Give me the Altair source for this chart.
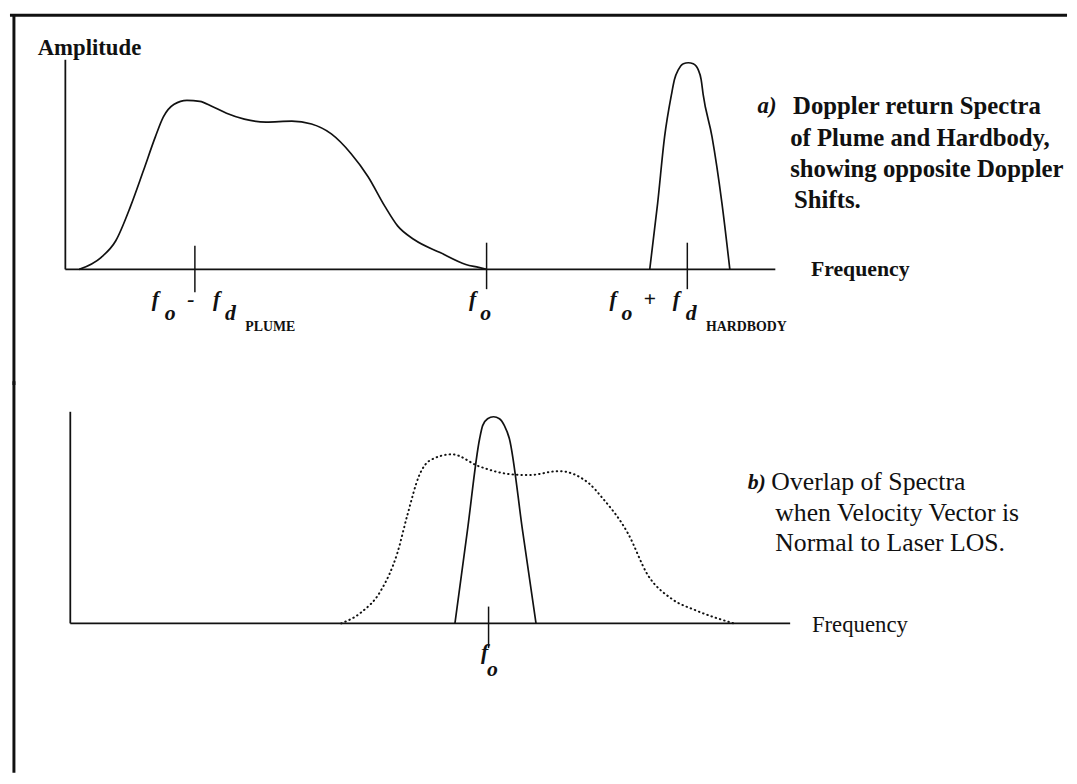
import altair as alt
import pandas as pd

# ---------------- data (frequency in arbitrary units, f0 = 0; amplitude in arbitrary units) ----------------
# panel a) plume return and hardbody return
plume_a_freq = [-41.2, -39.0, -37.5, -36.0, -34.7, -33.5, -32.7, -31.6, -30.3, -29.0, -27.8, -26.3, -24.5,
                -22.3, -19.7, -17.7, -15.7, -13.7, -12.0, -10.3, -9.0, -7.3, -4.7, -2.1, -0.8, 0.0]
plume_a_amp = [0, 1.2, 2.9, 6.4, 10.0, 13.4, 15.4, 16.7, 17.1, 17.0, 16.5, 15.8, 15.2,
               14.9, 15.0, 14.7, 13.7, 11.7, 9.4, 6.4, 4.4, 3.0, 1.7, 0.5, 0.2, 0]
hard_a_freq = [16.5, 17.3, 18.0, 18.7, 19.0, 19.4, 19.9, 20.4, 20.9, 21.4, 21.7, 21.9, 22.8, 23.8, 24.6]
hard_a_amp = [0, 6.7, 13.4, 17.7, 19.2, 20.2, 20.8, 20.9, 20.8, 20.2, 19.2, 17.7, 13.4, 6.7, 0]

# panel b) plume (dotted) overlapping the hardbody return at f0
plume_b_freq = [-14.9, -12.9, -10.9, -9.2, -8.2, -7.0, -5.9, -3.7, -1.0, 2.1, 4.1, 7.1, 10.1, 11.5,
                14.1, 16.1, 18.5, 21.0, 24.8]
plume_b_amp = [0, 1.1, 3.3, 7.2, 11.0, 15.0, 16.5, 17.1, 15.9, 15.1, 15.0, 15.4, 14.2, 12.7,
               9.1, 4.9, 2.5, 1.3, 0]
hard_b_freq = [-3.4, -2.15, -0.9, -0.6, -0.1, 0.5, 1.1, 1.6, 2.1, 3.45, 4.8]
hard_b_amp = [0, 9.3, 18.7, 20.0, 20.7, 20.9, 20.7, 20.0, 18.7, 9.3, 0]

# axes extents
axis_a = {"f0": -42.6, "f1": 29.2, "top": 21.2}
axis_b = {"f0": -42.3, "f1": 30.5, "top": 21.4}
ticks_a_freq = [-29.5, 0.0, 20.3]
ticks_a_top = [2.4, 2.7, 2.7]
ticks_a_bot = [-2.3, -2.0, -2.0]
ticks_b_freq = [0.0]
ticks_b_top = [1.7]
ticks_b_bot = [-2.5]

# texts
caption_a = ["Doppler return Spectra", "of Plume and Hardbody,", "showing opposite Doppler", "Shifts."]
caption_a_f = [31.0, 30.7, 30.7, 31.1]
caption_a_A = [16.5, 13.3, 10.1, 7.0]
caption_b = ["Overlap of Spectra", "when Velocity Vector is", "Normal to Laser LOS."]
caption_b_f = [28.6, 29.0, 29.0]
caption_b_A = [14.3, 11.2, 8.1]

# tick-label pieces (italic symbols) for panel a
sym_a_text = ["f", "o", "-", "f", "d", "f", "o", "f", "o", "+", "f", "d"]
sym_a_f = [-33.5, -32.0, -29.9, -27.3, -25.9, -1.4, -0.1, 12.8, 14.2, 16.5, 19.2, 20.7]
sym_a_A = [-3.0, -4.4, -3.0, -3.0, -4.4, -3.0, -4.4, -3.0, -4.4, -3.0, -3.0, -4.4]
small_a_text = ["PLUME", "HARDBODY"]
small_a_f = [-24.4, 22.2]
small_a_A = [-5.8, -5.8]
sym_b_text = ["f", "o"]
sym_b_f = [-0.4, 0.4]
sym_b_A = [-2.9, -4.6]

INK = "#111111"
FONT = "Liberation Serif"
W = 1069
HA, HB = 372, 396

xs_a = alt.Scale(domain=[-48.2, 58.7], nice=False, zero=False)
ys_a = alt.Scale(domain=[-11.3, 25.9], nice=False, zero=False)
xs_b = alt.Scale(domain=[-48.4, 58.5], nice=False, zero=False)
ys_b = alt.Scale(domain=[-15.1, 24.5], nice=False, zero=False)


def curve(freq, amp, xs, ys, dash=None, width=1.7):
    df = pd.DataFrame({"f": freq, "A": amp, "i": list(range(len(freq)))})
    kw = dict(color=INK, strokeWidth=width, interpolate="monotone")
    if dash is not None:
        kw["strokeDash"] = dash
        kw["strokeCap"] = "round"
    return alt.Chart(df).mark_line(**kw).encode(
        x=alt.X("f:Q", scale=xs, axis=None),
        y=alt.Y("A:Q", scale=ys, axis=None),
        order="i:Q",
    )


def axes(ax, xs, ys):
    v = pd.DataFrame({"f": [ax["f0"]], "A": [0.0], "A2": [ax["top"]]})
    h = pd.DataFrame({"f": [ax["f0"]], "f2": [ax["f1"]], "A": [0.0]})
    vr = alt.Chart(v).mark_rule(color=INK, strokeWidth=1.8).encode(
        x=alt.X("f:Q", scale=xs, axis=None), y=alt.Y("A:Q", scale=ys, axis=None), y2="A2:Q")
    hr = alt.Chart(h).mark_rule(color=INK, strokeWidth=1.8).encode(
        x=alt.X("f:Q", scale=xs, axis=None), x2="f2:Q", y=alt.Y("A:Q", scale=ys, axis=None))
    return vr + hr


def ticks(freq, top, bot, xs, ys):
    df = pd.DataFrame({"f": freq, "t": top, "b": bot})
    return alt.Chart(df).mark_rule(color=INK, strokeWidth=1.5).encode(
        x=alt.X("f:Q", scale=xs, axis=None), y=alt.Y("t:Q", scale=ys, axis=None), y2="b:Q")


def texts(txt, freq, amp, xs, ys, size, weight="normal", style="normal", align="left", baseline="middle"):
    df = pd.DataFrame({"t": txt, "f": freq, "A": amp})
    return alt.Chart(df).mark_text(font=FONT, fontSize=size, fontWeight=weight, fontStyle=style,
                                   align=align, baseline=baseline, color=INK).encode(
        x=alt.X("f:Q", scale=xs, axis=None), y=alt.Y("A:Q", scale=ys, axis=None), text="t:N")


dummy = pd.DataFrame({"k": [0]})
border_top = alt.Chart(dummy).mark_rule(color=INK, strokeWidth=3).encode(
    x=alt.value(0), x2=alt.value(W), y=alt.value(2))
border_left_a = alt.Chart(dummy).mark_rule(color=INK, strokeWidth=3).encode(
    x=alt.value(4), y=alt.value(1), y2=alt.value(HA + 4))
border_left_b = alt.Chart(dummy).mark_rule(color=INK, strokeWidth=3).encode(
    x=alt.value(4), y=alt.value(0), y2=alt.value(HB))

panel_a = alt.layer(
    border_top, border_left_a,
    axes(axis_a, xs_a, ys_a),
    ticks(ticks_a_freq, ticks_a_top, ticks_a_bot, xs_a, ys_a),
    curve(plume_a_freq, plume_a_amp, xs_a, ys_a),
    curve(hard_a_freq, hard_a_amp, xs_a, ys_a),
    texts(["Amplitude"], [-45.4], [21.7], xs_a, ys_a, 23, weight="bold", baseline="alphabetic"),
    texts(["Frequency"], [32.8], [0.0], xs_a, ys_a, 22, weight="bold"),
    texts(["a)"], [27.4], [16.5], xs_a, ys_a, 23, weight="bold", style="italic"),
    texts(caption_a, caption_a_f, caption_a_A, xs_a, ys_a, 25, weight="bold"),
    texts(sym_a_text, sym_a_f, sym_a_A, xs_a, ys_a, 22, weight="bold", style="italic", align="center"),
    texts(small_a_text, small_a_f, small_a_A, xs_a, ys_a, 14, weight="bold"),
).properties(width=W, height=HA)

panel_b = alt.layer(
    border_left_b,
    axes(axis_b, xs_b, ys_b),
    ticks(ticks_b_freq, ticks_b_top, ticks_b_bot, xs_b, ys_b),
    curve(plume_b_freq, plume_b_amp, xs_b, ys_b, dash=[0.5, 4.0], width=2.0),
    curve(hard_b_freq, hard_b_amp, xs_b, ys_b),
    texts(["Frequency"], [32.7], [-0.2], xs_b, ys_b, 23),
    texts(["b)"], [26.2], [14.3], xs_b, ys_b, 22, weight="bold", style="italic"),
    texts(caption_b, caption_b_f, caption_b_A, xs_b, ys_b, 26),
    texts(sym_b_text, sym_b_f, sym_b_A, xs_b, ys_b, 22, weight="bold", style="italic", align="center"),
).properties(width=W, height=HB)

chart = alt.vconcat(panel_a, panel_b, spacing=0, bounds="flush").properties(
    padding=0, background="white"
).configure_view(stroke=None).configure_concat(spacing=0)

chart.save("out.html", embed_options={"renderer": "svg", "actions": False})
